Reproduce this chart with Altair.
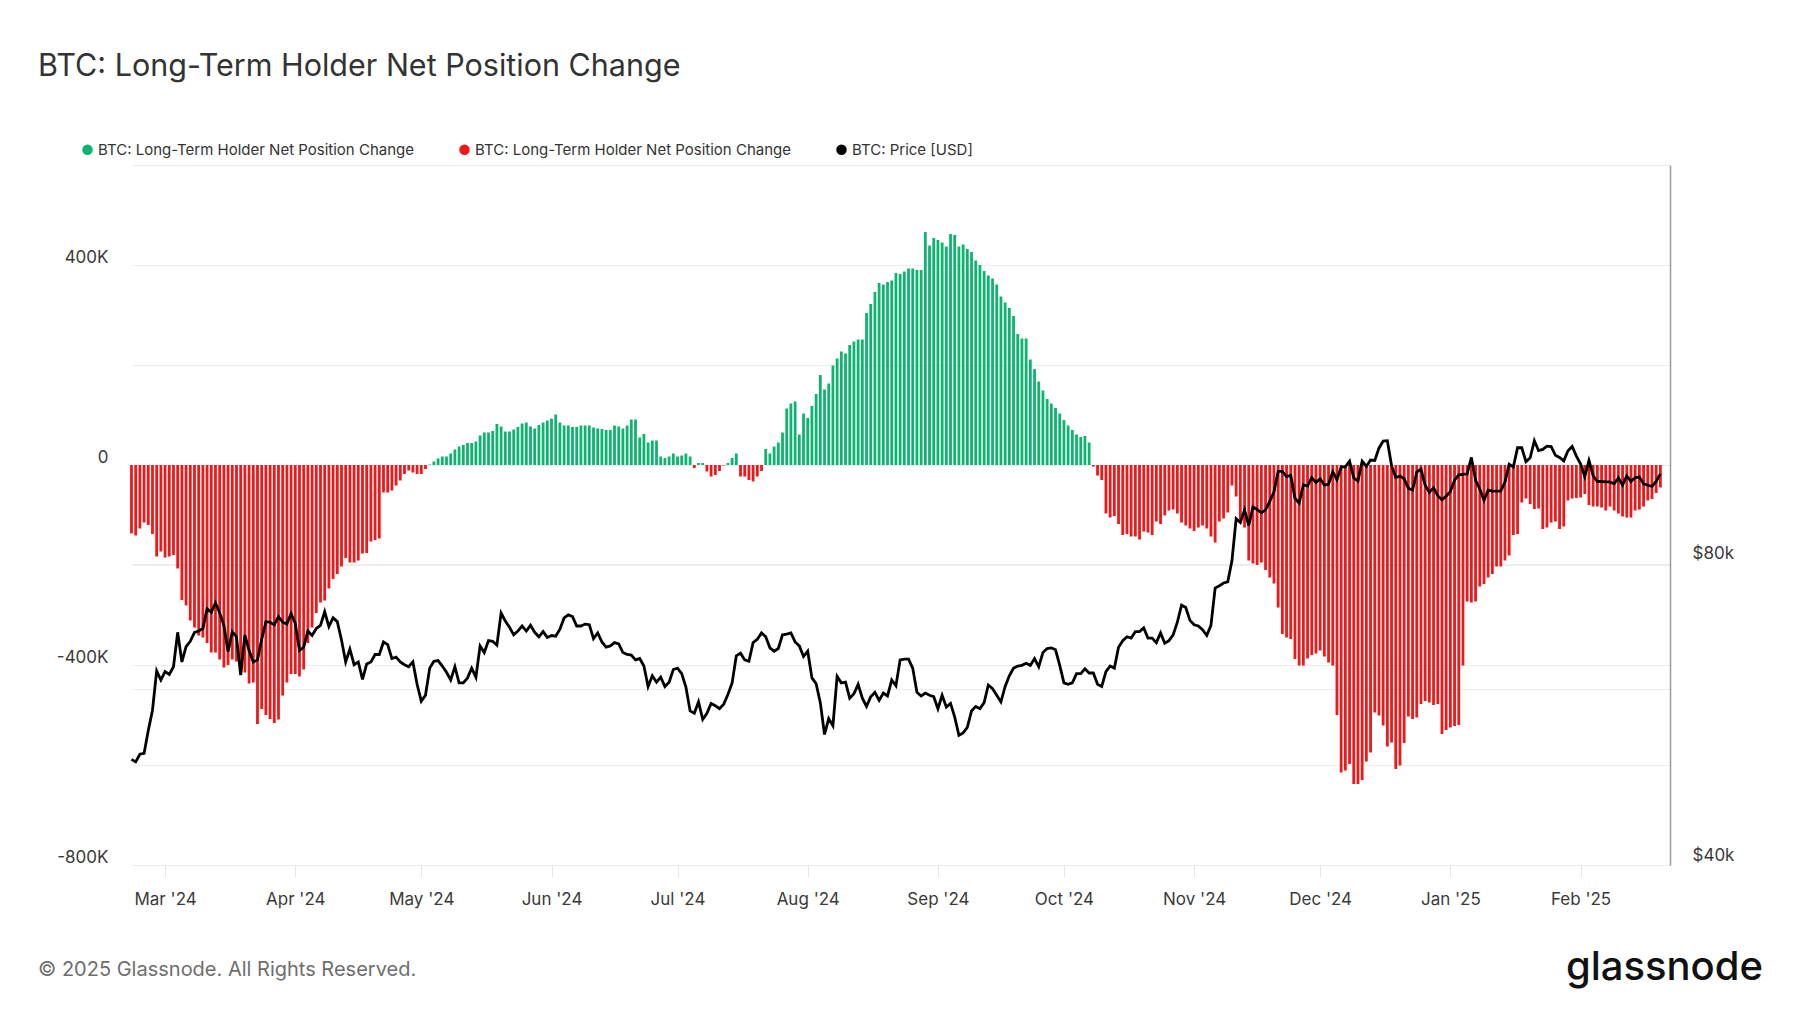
import altair as alt
import pandas as pd

# ---------------- data ----------------
START_DATE = "2024-02-22"

# BTC: Long-Term Holder Net Position Change, thousands of BTC, one value per day
lth_net_change_k = [
    -137, -141, -127, -115, -120, -138, -183, -173, -185, -183,
    -180, -207, -270, -281, -311, -325, -341, -345, -356, -375,
    -375, -389, -405, -400, -389, -393, -418, -415, -437, -435,
    -518, -488, -500, -508, -516, -509, -461, -435, -418, -418,
    -423, -409, -356, -325, -296, -275, -271, -247, -228, -218,
    -203, -186, -195, -195, -191, -177, -176, -153, -150, -147,
    -55, -55, -51, -41, -31, -18, -11, -15, -18, -18,
    -8, 1, 7, 13, 17, 17, 23, 31, 37, 40,
    44, 44, 47, 59, 65, 65, 68, 82, 77, 67,
    67, 71, 76, 83, 85, 77, 73, 80, 85, 89,
    93, 101, 85, 79, 79, 76, 76, 79, 79, 79,
    75, 73, 72, 70, 70, 79, 77, 73, 79, 91,
    91, 55, 62, 45, 49, 49, 17, 14, 17, 23,
    17, 19, 23, 17, -6, 4, 4, -13, -23, -20,
    -12, -1, 4, 14, 23, -23, -23, -30, -33, -23,
    -12, 32, 23, 37, 45, 65, 113, 123, 127, 61,
    103, 94, 118, 142, 180, 151, 163, 199, 213, 227,
    223, 240, 247, 251, 251, 304, 322, 346, 364, 361,
    366, 369, 384, 382, 387, 393, 393, 390, 390, 466,
    439, 454, 450, 445, 437, 462, 460, 437, 441, 432,
    426, 409, 400, 388, 379, 373, 361, 337, 325, 314,
    298, 262, 253, 253, 211, 192, 167, 149, 132, 123,
    114, 103, 90, 79, 70, 61, 56, 58, 45, -3,
    -21, -30, -97, -105, -102, -118, -140, -138, -143, -143,
    -149, -133, -135, -140, -113, -118, -101, -91, -89, -97,
    -115, -121, -127, -132, -125, -121, -127, -143, -155, -113,
    -107, -95, -41, -63, -115, -125, -191, -197, -200, -195,
    -210, -225, -237, -285, -338, -345, -348, -388, -401, -401,
    -387, -380, -377, -371, -383, -395, -401, -500, -615, -611,
    -598, -638, -638, -630, -593, -575, -495, -501, -521, -563,
    -555, -608, -601, -556, -503, -508, -505, -478, -472, -475,
    -480, -478, -538, -530, -525, -522, -520, -401, -273, -275,
    -273, -243, -238, -225, -218, -203, -203, -191, -181, -140,
    -138, -75, -67, -78, -88, -87, -128, -125, -115, -113,
    -128, -123, -71, -67, -66, -65, -58, -80, -83, -83,
    -85, -91, -83, -91, -97, -103, -105, -105, -91, -89,
    -83, -71, -68, -56, -45,
]

# BTC price, thousands of USD, per month
price_feb24 = [51.0, 50.7, 51.6, 51.7, 54.5, 57.1, 62.5, 61.2]
price_mar24 = [62.4, 62.0, 63.1, 68.3, 63.8, 66.1, 66.9, 68.3, 68.5, 68.9, 72.1, 71.5, 73.1, 71.4, 69.4, 65.3,
               68.4, 67.6, 61.9, 67.9, 65.5, 63.8, 64.1, 67.2, 70.0, 69.9, 69.5, 70.8, 69.9, 69.6, 71.3]
price_apr24 = [69.7, 65.5, 66.0, 68.5, 67.8, 68.9, 69.4, 71.6, 69.2, 70.6, 70.0, 67.1, 63.8, 65.7, 63.4,
               63.8, 61.3, 63.5, 63.8, 64.9, 64.9, 66.8, 66.4, 64.3, 64.5, 63.8, 63.4, 63.1, 63.8, 60.6]
price_may24 = [58.3, 59.1, 62.9, 63.9, 64.0, 63.2, 62.3, 61.2, 63.1, 60.8, 60.8, 61.5, 62.9, 61.6, 66.2, 65.2,
               67.0, 66.9, 66.3, 71.4, 70.1, 69.1, 67.9, 68.5, 69.3, 68.5, 69.4, 68.3, 67.6, 68.4, 67.5]
price_jun24 = [67.8, 67.7, 68.8, 70.6, 71.1, 70.8, 69.3, 69.3, 69.6, 69.5, 67.3, 68.2, 66.8, 66.0, 66.2,
               66.7, 66.5, 65.2, 64.9, 64.8, 64.1, 64.3, 63.2, 60.3, 61.8, 60.9, 61.6, 60.3, 60.9, 62.7]
price_jul24 = [62.9, 62.1, 60.2, 57.0, 56.7, 58.2, 55.9, 56.7, 58.0, 57.7, 57.3, 57.9, 59.2, 60.8, 64.7, 65.1,
               64.1, 63.9, 66.7, 67.2, 68.2, 67.6, 65.9, 65.4, 65.8, 67.9, 68.0, 68.2, 66.8, 66.2, 64.6]
price_aug24 = [65.4, 61.5, 60.7, 58.1, 54.0, 56.0, 55.1, 61.7, 60.8, 60.9, 58.7, 59.3, 60.6, 58.7, 57.6, 58.9,
               59.5, 58.4, 59.4, 59.0, 61.2, 60.4, 64.1, 64.2, 64.2, 62.9, 59.5, 59.0, 59.4, 59.1, 58.9]
price_sep24 = [57.3, 59.1, 57.5, 58.0, 56.2, 53.9, 54.2, 54.9, 57.0, 57.6, 57.3, 58.1, 60.5, 60.0, 59.1,
               58.2, 60.3, 61.8, 62.9, 63.2, 63.3, 63.6, 63.3, 64.3, 63.1, 65.2, 65.8, 65.9, 65.6, 63.3]
price_oct24 = [60.8, 60.6, 60.8, 62.1, 62.1, 62.8, 62.2, 62.2, 60.6, 60.3, 62.4, 63.2, 62.9, 66.0, 67.0, 67.6,
               67.4, 68.4, 68.4, 69.0, 67.4, 67.4, 66.7, 68.2, 66.6, 67.0, 67.9, 69.9, 72.7, 72.3, 70.2]
price_nov24 = [69.5, 69.3, 68.7, 67.8, 69.4, 75.6, 76.0, 76.5, 76.7, 80.5, 88.7, 87.9, 90.5, 87.3, 91.1,
               90.6, 89.9, 90.5, 92.3, 94.3, 98.9, 98.9, 97.7, 98.0, 93.0, 91.9, 95.9, 95.6, 97.5, 96.4]
price_dec24 = [97.2, 95.8, 96.0, 98.8, 97.0, 99.9, 99.9, 101.2, 97.4, 96.7, 101.2, 100.0, 101.5, 101.4, 104.3,
               106.0, 106.1, 100.2, 97.5, 97.8, 97.2, 95.1, 94.7, 98.7, 99.4, 95.8, 94.2, 95.2, 93.5, 92.6, 93.4]
price_jan25 = [94.4, 96.9, 98.1, 98.2, 98.3, 102.1, 96.9, 95.0, 92.5, 94.7, 94.5, 94.5, 94.5, 96.5, 100.5,
               99.9, 104.4, 104.4, 101.1, 102.0, 106.1, 103.7, 104.0, 104.8, 104.7, 102.6, 102.1, 101.3, 103.7,
               104.7, 102.4]
price_feb25 = [100.6, 97.7, 101.4, 97.9, 96.6, 96.6, 96.5, 96.5, 96.1, 97.4, 95.8, 97.9, 96.6, 97.5, 97.6,
               96.1, 95.8, 95.5, 96.6, 98.3]

btc_price_k = (price_feb24 + price_mar24 + price_apr24 + price_may24 + price_jun24 + price_jul24 +
               price_aug24 + price_sep24 + price_oct24 + price_nov24 + price_dec24 + price_jan25 + price_feb25)

LEGEND_KEYS = ["pos", "neg", "price"]
TITLE = "BTC: Long-Term Holder Net Position Change"
LTH_LABEL = "BTC: Long-Term Holder Net Position Change"
PRICE_LABEL = "BTC: Price [USD]"
FOOTER = "\u00a9 2025 Glassnode. All Rights Reserved."
LOGO = "glassnode"

# ---------------- table ----------------
n = len(lth_net_change_k)
dates = pd.date_range(START_DATE, periods=n, freq="D").strftime("%Y-%m-%dT00:00:00")
df = pd.DataFrame({
    "date": dates,
    "lth": [v * 1000 for v in lth_net_change_k],
    "price": [p * 1000 for p in btc_price_k[:n]],
})
df["series"] = ["pos" if v >= 0 else "neg" for v in df["lth"]]

GREEN = "#0db46f"
RED = "#ef1717"
FONT = "Inter"
GRID = "#ededed"
LABEL = "#3a3a3a"

x_enc = alt.X(
    "date:T",
    title="",
    scale=alt.Scale(domain=["2024-02-22T03:00:00", "2025-02-22T07:00:00"], padding=0),
    axis=alt.Axis(
        format="%b '%y", tickCount="month", grid=False, domain=False,
        ticks=True, tickColor="#e6e6e6", tickSize=12, labelPadding=14,
        labelFontSize=17, labelColor=LABEL, labelFont=FONT, labelFlush=False,
        labelBaseline="top",
    ),
)

bars = alt.Chart(df).mark_bar(size=2.8).encode(
    x=x_enc,
    y=alt.Y(
        "lth:Q", title="",
        scale=alt.Scale(domain=[-800000, 600000], nice=False, zero=True),
        axis=alt.Axis(
            values=[-800000, -600000, -400000, -200000, 0, 200000, 400000, 600000],
            labelExpr="datum.value % 400000 == 0 ? (datum.value < 0 ? '-' : '') + abs(datum.value) / 1000 + (datum.value == 0 ? '' : 'K') : ''",
            grid=True, gridColor=GRID, gridWidth=1, domain=False, ticks=False,
            labelPadding=24, labelFontSize=17, labelColor=LABEL, labelFont=FONT,
            labelBaseline="alphabetic", labelOffset=-3,
        ),
    ),
    color=alt.Color(
        "series:N",
        scale=alt.Scale(domain=LEGEND_KEYS, range=[GREEN, RED, "#000000"]),
        legend=alt.Legend(
            orient="none", legendX=-52, legendY=-23, direction="horizontal",
            title="", symbolType="circle", symbolSize=110, symbolStrokeWidth=0,
            labelFontSize=15, labelFont=FONT, labelColor="#333333",
            labelOffset=3, columnPadding=43, labelLimit=600,
            labelExpr=f"datum.value == 'price' ? '{PRICE_LABEL}' : '{LTH_LABEL}'",
        ),
    ),
)

line = alt.Chart(df).mark_line(color="#000000", strokeWidth=2.8).encode(
    x=alt.X("date:T"),
    y=alt.Y(
        "price:Q", title="",
        scale=alt.Scale(type="log", domain=[40000, 200000], nice=False),
        axis=alt.Axis(
            orient="right", values=[40000, 60000, 80000],
            labelExpr="datum.value == 60000 ? '' : '$' + datum.value / 1000 + 'k'",
            grid=True, gridColor=GRID, domain=True, domainColor="#9a9a9a", domainWidth=1.5,
            ticks=False, labelPadding=22, labelFontSize=17, labelColor=LABEL, labelFont=FONT,
            labelBaseline="alphabetic", labelOffset=-5,
        ),
    ),
)

title = alt.Chart(pd.DataFrame({"t": [TITLE]})).mark_text(
    align="left", baseline="alphabetic", fontSize=30.5, font=FONT, color="#333333"
).encode(text="t:N", x=alt.value(-94), y=alt.value(-89))

footer = alt.Chart(pd.DataFrame({"t": [FOOTER]})).mark_text(
    align="left", baseline="alphabetic", fontSize=20, font=FONT, color="#6e6e6e"
).encode(text="t:N", x=alt.value(-94), y=alt.value(811))

logo = alt.Chart(pd.DataFrame({"t": [LOGO]})).mark_text(
    align="right", baseline="alphabetic", fontSize=40, font=FONT, fontWeight=500,
    color="#111111"
).encode(text="t:N", x=alt.value(1631), y=alt.value(815))

chart = (
    alt.layer(bars, line, title, footer, logo)
    .resolve_scale(y="independent")
    .properties(
        width=1538, height=700,
        autosize=alt.AutoSizeParams(type="none"),
        padding={"left": 124, "top": 157, "right": 116, "bottom": 136},
    )
    .configure(font=FONT)
    .configure_view(stroke="transparent")
)

chart.save("out.html", embed_options={"renderer": "svg", "actions": False})
